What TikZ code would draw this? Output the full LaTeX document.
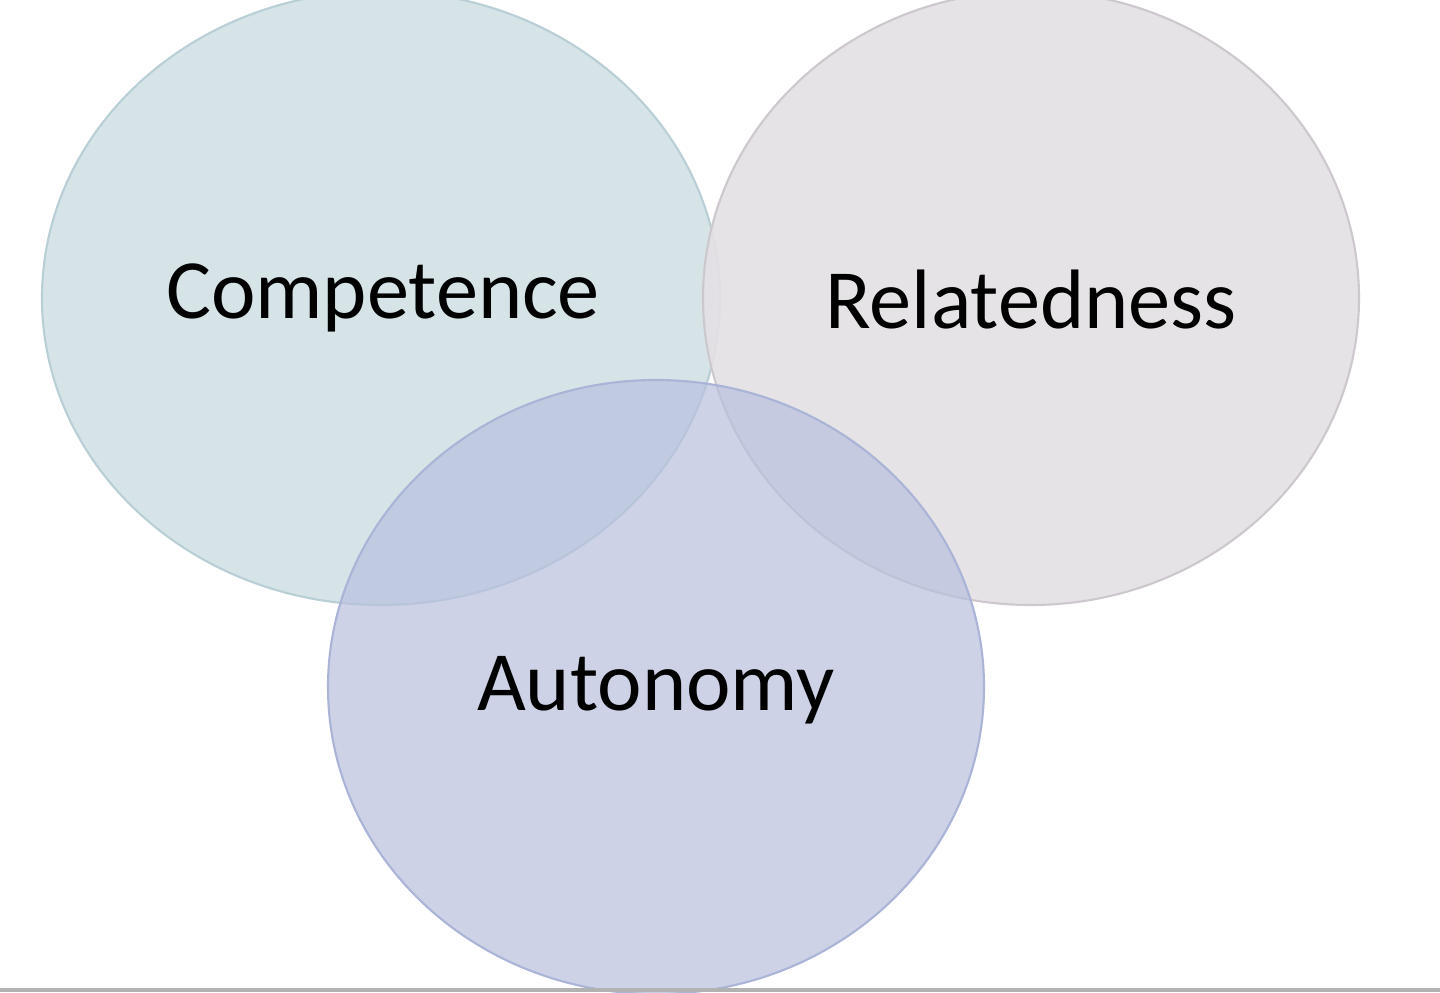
\documentclass[tikz,border=0pt]{standalone}
\usepackage{fontspec}
\setmainfont{Carlito}
\definecolor{compf}{RGB}{214,228,232}
\definecolor{compd}{RGB}{185,207,214}
\definecolor{relf}{RGB}{228,224,228}
\definecolor{reld}{RGB}{205,200,205}
\definecolor{autf}{RGB}{184,192,222}
\definecolor{autd}{RGB}{170,180,215}
\begin{document}
\begin{tikzpicture}[x=0.02cm,y=-0.02cm,
  lbl/.style={font=\fontsize{48}{54}\selectfont, text=black}]
\clip (0,0) rectangle (1440,993);
\useasboundingbox (0,0) rectangle (1440,993);
\fill[white] (0,0) rectangle (1440,993);
\filldraw[fill=compf, draw=compd, line width=1.2pt] (381,298) ellipse [x radius=339, y radius=307];
\filldraw[fill=relf, draw=reld, line width=1.2pt, fill opacity=0.9] (1031,298) ellipse [x radius=328, y radius=307];
\filldraw[fill=autf, draw=autd, line width=1.2pt, fill opacity=0.7] (656,687) ellipse [x radius=328, y radius=307];
\node[lbl] (c) at (383,298) {Competence};
\node[lbl] (r) at (1031,300) {Relatedness};
\node[lbl] (a) at (656,690) {Autonomy};
\draw[gray!60, line width=2pt] (0,990) -- (1440,990);
\end{tikzpicture}
\end{document}
